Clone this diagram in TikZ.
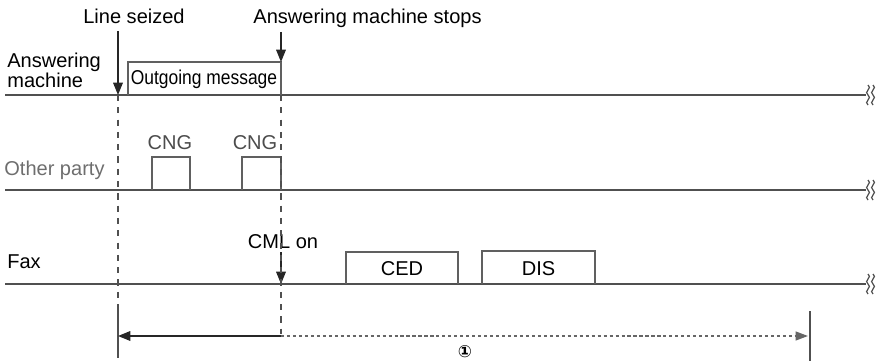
\documentclass[tikz,border=0pt]{standalone}
\usepackage{fontspec}
\setmainfont{Liberation Sans}
\newfontfamily\circfont{DejaVu Sans}
\usetikzlibrary{arrows.meta,positioning,calc}
\definecolor{sigline}{HTML}{505050}
\definecolor{sigbox}{HTML}{606060}
\definecolor{sidegray}{HTML}{6E6E6E}
\definecolor{dotgray}{HTML}{666666}

\tikzset{
  lbl/.style={inner sep=0pt, font=\fontsize{11.4}{11.4}\selectfont},
  trace/.style={draw=sigline, line width=0.8pt},
  pulse/.style={draw=sigbox, line width=0.6pt},
  guide/.style={draw=sigline, line width=0.6pt, dash pattern=on 3.5pt off 3.5pt},
  event/.style={draw=black!85, line width=0.7pt, -{Triangle[length=7pt,width=5.5pt]}},
  breakmark/.style={draw=sigline, line width=0.7pt},
}

\begin{document}
\begin{tikzpicture}[x=0.02cm, y=-0.02cm]
\useasboundingbox (0,0) rectangle (881,361);

%%% ---------- time marks ----------
\def\tSeize{118}
\def\tStop{281}
\def\tEnd{810}
\def\dimY{336}

% signal lines, each with a break mark at the right
\foreach \yy/\nm in {95/am,190/op,284/fx} {
    \coordinate (\nm W) at (5,\yy);
    \coordinate (\nm E) at (866,\yy);
    \draw[trace] (\nm W) -- (\nm E);
    \foreach \dx in {2,7}
        \draw[breakmark] (\nm E) ++(\dx,-10) .. controls +(5,3) and +(-5,-3) .. ++(0,10)
                                            .. controls +(5,3) and +(-5,-3) .. ++(0,10);
}

% Row labels
\node[lbl, anchor=south west, align=left] (amname) at (7,88) {Answering\\machine};
\node[lbl, anchor=base west, text=sidegray] (opname) at (4,175) {Other party};
\node[lbl, anchor=base west] (fxname) at (7,268) {Fax};

%%% ---------- answering machine ----------
\coordinate (ogmL) at (128,95);
\coordinate (ogmTR) at (\tStop,62);
\draw[pulse] (ogmL) |- (ogmTR) -- (ogmTR |- amE);
\node[lbl, anchor=base] (ogm) at (204,85) {\scalebox{0.87}[1]{Outgoing message}};

% Event arrows
\node[lbl, anchor=base] (seized) at (134,23.5) {Line seized};
\node[lbl, anchor=base] (amstops) at (367.5,23.5) {Answering machine stops};
\coordinate (seizeTop) at (\tSeize,31);
\coordinate (seizeHit) at (\tSeize,95);
\coordinate (stopTop) at (\tStop,32);
\draw[event] (seizeTop) -- (seizeHit);
\draw[event] (stopTop) -- (ogmTR);

%%% ---------- other party ----------
\foreach \xa/\xb/\xl/\i in {152/190/170/1, 242/281/255/2} {
    \draw[pulse] (\xa,190) |- (\xb,157) -- (\xb,190);
    \node[lbl, anchor=base, text=black!70] (cng\i) at (\xl,150) {CNG};
}

%%% ---------- fax ----------
\foreach \xa/\xb/\yt/\txt/\nm in {346/458/252/CED/ced, 482/595/251/DIS/dis} {
    \draw[pulse] (\xa,284) |- (\xb,\yt) -- (\xb,284);
    \node[lbl, anchor=base] (\nm) at ({(\xa+\xb)/2},275) {\txt};
}
\node[lbl, anchor=base] (cmlon) at (283,248) {CML on};
\coordinate (cmlTop) at (\tStop,252);
\coordinate (cmlHit) at (\tStop,284);
\draw[event] (cmlTop) -- (cmlHit);

%%% ---------- guides and duration ----------
\coordinate (seizeLow) at (\tSeize,310);
\coordinate (seizeFoot) at (\tSeize,358);
\coordinate (stopLow) at (\tStop,334);
\draw[guide] (seizeHit) -- (seizeLow);
\draw[trace, line width=0.7pt] (seizeLow) -- (seizeFoot);
\draw[guide] (\tStop,95) coordinate (stopHit) -- (stopLow);

\coordinate (durMid) at (\tStop,\dimY);
\coordinate (durL) at (\tSeize,\dimY);
\coordinate (durR) at (808,\dimY);
\coordinate (endTop) at (\tEnd,311);
\coordinate (endFoot) at (\tEnd,361);
\draw[event] (durMid) -- (durL);
\draw[draw=dotgray, line width=0.9pt, dash pattern=on 1.8pt off 1.6pt,
      -{Triangle[length=7pt,width=5pt,fill=dotgray]}] (durMid) -- (durR);
\draw[trace, line width=0.7pt] (endTop) -- (endFoot);
\node[inner sep=0pt, font=\circfont\fontsize{9.5}{9.5}\selectfont\bfseries] (dur) at (465,352) {①};

\end{tikzpicture}
\end{document}
